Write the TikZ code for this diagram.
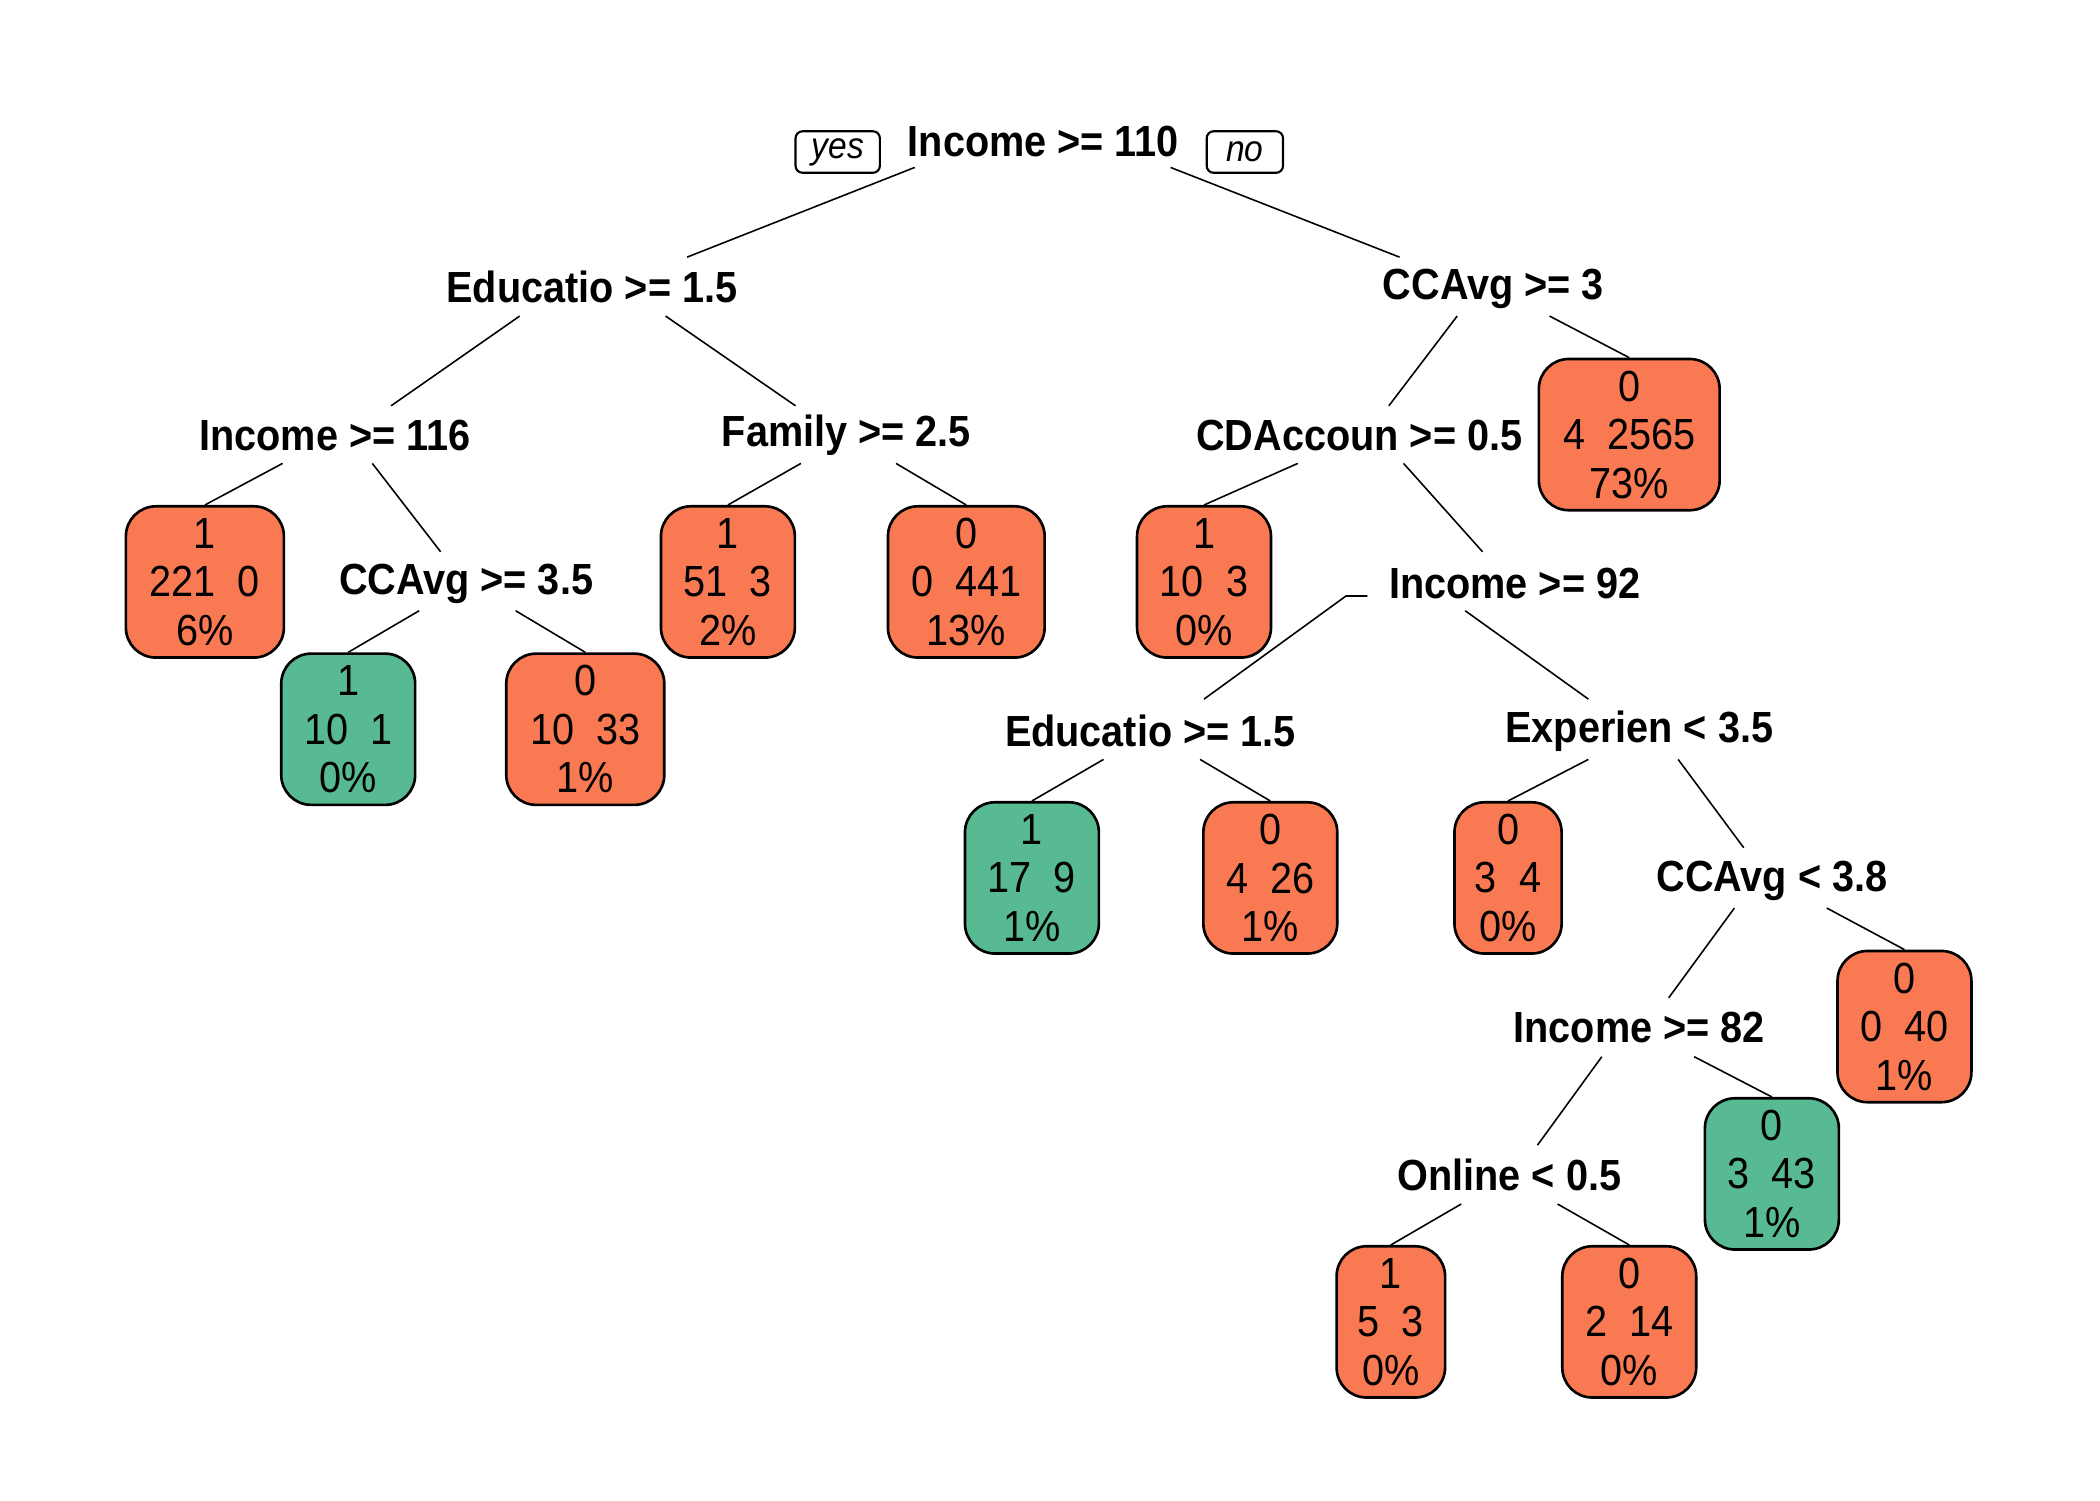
\documentclass[tikz,border=0pt]{standalone}
\usepackage{fontspec}
\setmainfont{Liberation Sans}[FakeStretch=0.91]
\usetikzlibrary{calc}
\definecolor{leaforange}{RGB}{248,121,82}
\definecolor{leafgreen}{RGB}{87,186,147}
\tikzset{
  splitlbl/.style={font=\fontsize{12.4}{13.5}\selectfont\bfseries, inner sep=0pt, text height=8.9pt, text depth=0pt},
  leafbox/.style={draw=black, line width=0.75pt, rounded corners=0.3cm, align=center,
    font=\fontsize{12.4}{13.8}\selectfont, inner sep=0pt,
    minimum height=1.513cm, minimum width=#1*0.013393cm},
  orangeleaf/.style={leafbox=#1, fill=leaforange},
  greenleaf/.style={leafbox=#1, fill=leafgreen},
  yesno/.style={draw=black, line width=0.6pt, rounded corners=0.07cm, inner sep=0pt,
    font=\fontsize{10.5}{12}\selectfont\itshape, minimum height=31*0.013393cm, minimum width=#1*0.013393cm},
  branch/.style={line width=0.45pt, draw=black}
}
\begin{document}
\begin{tikzpicture}[x=0.013393cm, y=-0.013393cm]
\useasboundingbox (0,0) rectangle (1568,1120);
% split labels
\node[splitlbl] (root)  at (779,105)  {Income >= 110};
\node[splitlbl] (eduA)  at (442,214)  {Educatio >= 1.5};
\node[splitlbl] (ccA)   at (1115,212) {CCAvg >= 3};
\node[splitlbl] (incB)  at (250,325)  {Income >= 116};
\node[splitlbl] (fam)   at (632,322)  {Family >= 2.5};
\node[splitlbl] (cda)   at (1015,325) {CDAccoun >= 0.5};
\node[splitlbl] (ccB)   at (348,432)  {CCAvg >= 3.5};
\node[splitlbl] (inc92) at (1131,435) {Income >= 92};
\node[splitlbl] (eduB)  at (859,546)  {Educatio >= 1.5};
\node[splitlbl] (expr)  at (1224,543) {Experien < 3.5};
\node[splitlbl] (cc38)  at (1323,654) {CCAvg < 3.8};
\node[splitlbl] (inc82) at (1224,767) {Income >= 82};
\node[splitlbl] (onl)   at (1127,877) {Online < 0.5};
% yes / no
\node[yesno=63] (yes) at (625.5,113.5) {yes};
\node[yesno=57] (no)  at (929.5,113.5) {no};
% leaves
\node[orangeleaf=118] (L1)  at (153,434.5)   {1\\221\ \ 0\\6\%};
\node[orangeleaf=100] (L2)  at (543.5,434.5) {1\\51\ \ 3\\2\%};
\node[orangeleaf=117] (L3)  at (721.5,434.5) {0\\0\ \ 441\\13\%};
\node[orangeleaf=100] (L4)  at (899,434.5)   {1\\10\ \ 3\\0\%};
\node[orangeleaf=135] (L73) at (1216.5,324.5) {0\\4\ \ 2565\\73\%};
\node[greenleaf=100]  (L5)  at (260,544.5)   {1\\10\ \ 1\\0\%};
\node[orangeleaf=118] (L6)  at (437,544.5)   {0\\10\ \ 33\\1\%};
\node[greenleaf=100]  (L7)  at (770.5,655.5) {1\\17\ \ 9\\1\%};
\node[orangeleaf=100] (L8)  at (948.5,655.5) {0\\4\ \ 26\\1\%};
\node[orangeleaf=80]  (L9)  at (1126,655.5)  {0\\3\ \ 4\\0\%};
\node[orangeleaf=100] (L10) at (1422,766.5)  {0\\0\ \ 40\\1\%};
\node[greenleaf=100]  (L11) at (1323,876.5)  {0\\3\ \ 43\\1\%};
\node[orangeleaf=81]  (L12) at (1038.5,987)  {1\\5\ \ 3\\0\%};
\node[orangeleaf=100] (L13) at (1216.5,987)  {0\\2\ \ 14\\0\%};
% branches
\draw[branch] ($(root)+(-96,20)$) -- ($(eduA)+(71,-22)$);
\draw[branch] ($(root)+(95,20)$) -- ($(ccA)+(-70,-20)$);
\draw[branch] ($(eduA)+(-54,22)$) -- ($(incB)+(42,-22)$);
\draw[branch] ($(eduA)+(55,22)$) -- ($(fam)+(-38,-19)$);
\draw[branch] ($(incB)+(-39,21)$) -- (L1.north);
\draw[branch] ($(incB)+(28,21)$) -- ($(ccB)+(-19,-20)$);
\draw[branch] ($(fam)+(-34,24)$) -- (L2.north);
\draw[branch] ($(fam)+(37,24)$) -- (L3.north);
\draw[branch] ($(ccA)+(-27,24)$) -- ($(cda)+(22,-22)$);
\draw[branch] ($(ccA)+(42,24)$) -- (L73.north);
\draw[branch] ($(cda)+(-46,21)$) -- (L4.north);
\draw[branch] ($(cda)+(33,21)$) -- ($(inc92)+(-24,-23)$);
\draw[branch] ($(ccB)+(-35,24)$) -- (L5.north);
\draw[branch] ($(ccB)+(37,24)$) -- (L6.north);
\draw[branch] ($(inc92)+(-110,10)$) -- ($(inc92)+(-126,10)$) -- ($(eduB)+(40,-24)$);
\draw[branch] ($(inc92)+(-37,21)$) -- ($(expr)+(-38,-21)$);
\draw[branch] ($(eduB)+(-35,21)$) -- (L7.north);
\draw[branch] ($(eduB)+(37,21)$) -- (L8.north);
\draw[branch] ($(expr)+(-38,24)$) -- (L9.north);
\draw[branch] ($(expr)+(29,24)$) -- ($(cc38)+(-21,-21)$);
\draw[branch] ($(cc38)+(-28,24)$) -- ($(inc82)+(22,-22)$);
\draw[branch] ($(cc38)+(41,24)$) -- (L10.north);
\draw[branch] ($(inc82)+(-28,22)$) -- ($(onl)+(21,-22)$);
\draw[branch] ($(inc82)+(41,22)$) -- (L11.north);
\draw[branch] ($(onl)+(-36,22)$) -- (L12.north);
\draw[branch] ($(onl)+(36,22)$) -- (L13.north);
\end{tikzpicture}
\end{document}
